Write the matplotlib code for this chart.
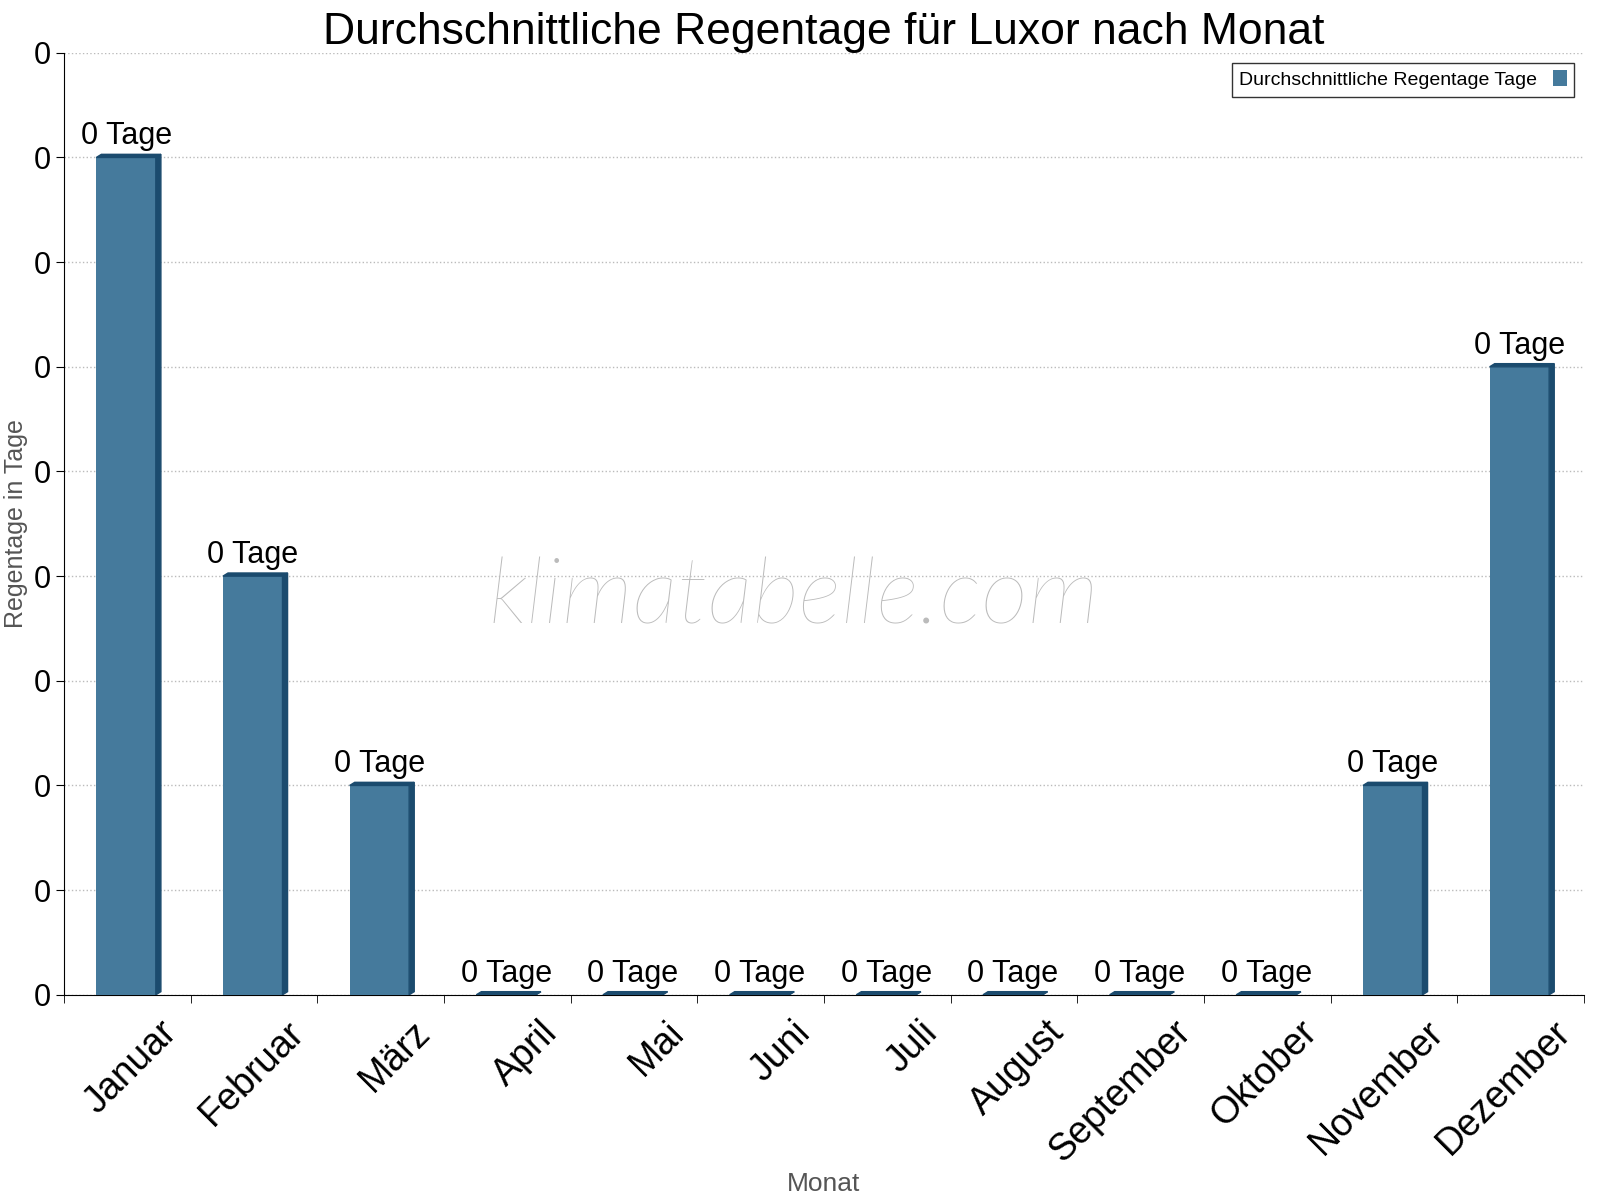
import numpy as np
import matplotlib.pyplot as plt
from matplotlib.patches import Polygon

plt.rcParams['font.family'] = ['Liberation Sans', 'DejaVu Sans']

months = ["Januar", "Februar", "März", "April", "Mai", "Juni", "Juli",
          "August", "September", "Oktober", "November", "Dezember"]
rain_days = [0.4, 0.2, 0.1, 0, 0, 0, 0, 0, 0, 0, 0.1, 0.3]
y_ticks = np.arange(0, 0.451, 0.05)

face = "#457a9c"
dark = "#1b4b6e"

fig = plt.figure(figsize=(16, 12), dpi=100)
ax = fig.add_axes([0.040, 0.171, 0.950, 0.785])

x = np.arange(len(months))
w = 0.47
d = 0.04  # depth of the fake 3D side
dy = 0.0015
ax.bar(x - 0.01, rain_days, width=w, color=face, zorder=3,
       label="Durchschnittliche Regentage Tage")
for xi, v in zip(x - 0.01, rain_days):
    l, r = xi - w / 2, xi + w / 2
    ax.add_patch(Polygon([(r, 0), (r + d, dy), (r + d, v + dy), (r, v)],
                         closed=True, color=dark, zorder=3))
    ax.add_patch(Polygon([(l, v), (l + d, v + dy), (r + d, v + dy), (r, v)],
                         closed=True, color=dark, zorder=3))
    ax.text(xi, v + 0.003, "0 Tage", ha="center", va="bottom", fontsize=22, zorder=4)

ax.set_xlim(-0.5, len(months) - 0.5)
ax.set_ylim(0, 0.45)
ax.set_yticks(y_ticks)
ax.set_yticklabels(["0"] * len(y_ticks), fontsize=22)
ax.set_xticks(x + 0.25)
ax.set_xticklabels(months, rotation=45, ha="right", rotation_mode="anchor", fontsize=27)
ax.set_xticks(np.arange(-0.5, len(months)), minor=True)
ax.tick_params(axis="x", which="major", length=0, pad=14)
ax.tick_params(axis="x", which="minor", length=6, direction="out")
ax.tick_params(axis="y", length=6, direction="out")
ax.grid(axis="y", linestyle=":", color="#bbbbbb", linewidth=1, zorder=0)
for s in ["top", "right"]:
    ax.spines[s].set_visible(False)

ax.set_title("Durchschnittliche Regentage für Luxor nach Monat", fontsize=32, pad=4)
ax.set_xlabel("Monat", fontsize=19, color="#555555", labelpad=2)
ax.set_ylabel("Regentage in Tage", fontsize=18, color="#555555")
ax.text(0.48, 0.42, "klimatabelle.com", transform=ax.transAxes, fontsize=66,
        color="#bbbbbb", style="italic", ha="center", va="center",
        family=["Lato", "Liberation Sans"], fontweight="light", zorder=1)

ax.legend(loc="upper right", fontsize=14, markerfirst=False, fancybox=False,
          edgecolor="black", handlelength=0.7, handleheight=0.9)

fig.savefig("out.png")
